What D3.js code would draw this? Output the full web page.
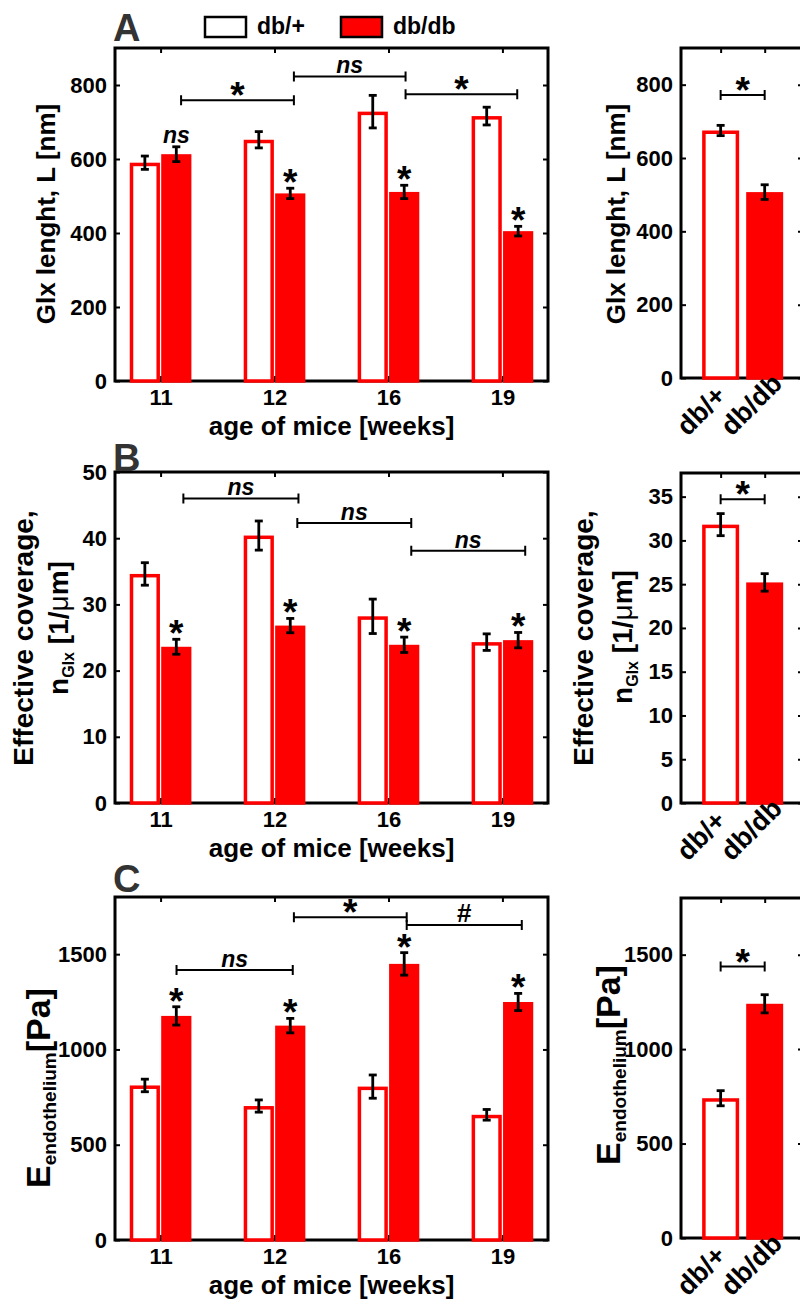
<!DOCTYPE html>
<html>
<head>
<meta charset="utf-8">
<title>Glycocalyx db/+ vs db/db</title>
<script src="https://d3js.org/d3.v7.min.js"></script>
<style>
body { margin: 0; background: #fff; }
svg { font-family: "Liberation Sans", Arial, sans-serif; font-weight: bold; }
</style>
</head>
<body>
<svg id="chart" width="800" height="1304"></svg>
<script>
// DATA ========================================================
const ages = ["11", "12", "16", "19"];
const genotypes = ["db/+", "db/db"];

// A: glycocalyx length [nm]
const lenHet = [590, 652, 728, 716];
const lenHetErr = [18, 22, 44, 24];
const lenDb = [613, 507, 511, 405];
const lenDbErr = [20, 14, 18, 13];
const lenPooled = [675, 507];
const lenPooledErr = [14, 20];
const lenMarks = ["ns", "*", "*", "*"];
const lenBrackets = [[1.18, 2.17, 759, "*"], [2.17, 3.15, 823, "ns"], [3.15, 4.13, 775, "*"]];
const lenPooledBracket = [1, 2, 772, "*"];

// B: effective coverage [1/um]
const covHet = [34.6, 40.4, 28.2, 24.3];
const covHetErr = [1.7, 2.2, 2.6, 1.25];
const covDb = [23.6, 26.8, 23.9, 24.6];
const covDbErr = [1.13, 1.08, 1.16, 1.16];
const covPooled = [31.8, 25.2];
const covPooledErr = [1.26, 1.0];
const covMarks = ["*", "*", "*", "*"];
const covBrackets = [[1.2, 2.21, 46.0, "ns"], [2.2, 3.2, 42.3, "ns"], [3.2, 4.2, 38.1, "ns"]];
const covPooledBracket = [1, 2, 34.7, "*"];

// C: endothelium stiffness [Pa]
const eHet = [811, 703, 805, 657];
const eHetErr = [33, 32, 61, 28];
const eDb = [1176, 1125, 1449, 1249];
const eDbErr = [48, 38, 59, 45];
const ePooled = [740, 1240];
const ePooledErr = [40, 48];
const eMarks = ["*", "*", "*", "*"];
const eBrackets = [[1.14, 2.16, 1417, "ns"], [2.17, 3.16, 1694, "*"], [3.16, 4.17, 1653, "#"]];
const ePooledBracket = [1, 2, 1437, "*"];

const lenTicks = [0, 200, 400, 600, 800];
const covTicks = [0, 10, 20, 30, 40, 50];
const covPooledTicks = [0, 5, 10, 15, 20, 25, 30, 35];
const eTicks = [0, 500, 1000, 1500];

// LAYOUT ======================================================
const FONT = '"Liberation Sans", Arial, sans-serif';
const RED = "#ff0000";
const LEFT = { x0: 115, x1: 548, dom: [0.6, 4.4], off: 0.138, bw: 0.265 };
const RIGHT = { x0: 681, x1: 803, dom: [0.1, 2.87], bw: 0.84 };
const svg = d3.select("#chart");

function styleAxis(a, labels) {
    a.attr("font-family", FONT).attr("font-size", 22).attr("font-weight", "bold");
    a.select(".domain").remove();
    a.selectAll(".tick line").attr("stroke", "#000").attr("stroke-width", 2);
    a.selectAll(".tick text").attr("fill", "#000");
    if (!labels) a.selectAll(".tick text").remove();
}

function drawPanel(p) {
    const s = p.side;
    const x = d3.scaleLinear().domain(s.dom).range([s.x0, s.x1]);
    const y = d3.scaleLinear().domain([0, p.yMax]).range([p.y1, p.y0]);
    const unit = x(1) - x(0);
    const g = svg.append("g");
    const cats = p.xLabels.map((d, i) => i + 1);

    // ticks (inward, boxed like matlab)
    g.append("g").attr("transform", `translate(${s.x0},0)`)
        .call(d3.axisLeft(y).tickValues(p.yTicks).tickSize(-5).tickPadding(8).tickFormat(d3.format("d")))
        .call(a => styleAxis(a, true));
    g.append("g").attr("transform", `translate(${s.x1},0)`)
        .call(d3.axisRight(y).tickValues(p.yTicks).tickSize(-5))
        .call(a => styleAxis(a, false));
    g.append("g").attr("transform", `translate(0,${p.y1})`)
        .call(d3.axisBottom(x).tickValues(cats).tickSize(-5).tickPadding(8)
            .tickFormat(d => p.xLabels[d - 1]))
        .call(a => styleAxis(a, p.side === LEFT));
    g.append("g").attr("transform", `translate(0,${p.y0})`)
        .call(d3.axisTop(x).tickValues(cats).tickSize(-5))
        .call(a => styleAxis(a, false));

    g.append("rect")
        .attr("x", s.x0).attr("y", p.y0)
        .attr("width", s.x1 - s.x0).attr("height", p.y1 - p.y0)
        .attr("fill", "none").attr("stroke", "#000").attr("stroke-width", 3);

    // bars
    let bars;
    if (s === LEFT) {
        bars = [];
        p.het.forEach((v, i) => {
            bars.push({ c: i + 1 - s.off, v: v, e: p.hetErr[i], filled: false });
            bars.push({ c: i + 1 + s.off, v: p.db[i], e: p.dbErr[i], filled: true, mark: p.marks[i] });
        });
    } else {
        bars = p.het.map((v, i) => ({ c: i + 1, v: v, e: p.hetErr[i], filled: i === 1 }));
    }
    const bwPx = s.bw * unit;
    const sw = 3.5;
    g.selectAll("rect.bar").data(bars).join("rect")
        .attr("class", "bar")
        .attr("x", d => x(d.c) - bwPx / 2 + sw / 2)
        .attr("width", bwPx - sw)
        .attr("y", d => y(d.v) + sw / 2)
        .attr("height", d => y(0) - y(d.v) - sw / 2)
        .attr("fill", d => d.filled ? RED : "#fff")
        .attr("stroke", RED).attr("stroke-width", sw);

    // error bars
    const eb = g.selectAll("g.err").data(bars).join("g").attr("class", "err")
        .attr("stroke", "#000").attr("stroke-width", 2.8);
    eb.append("line")
        .attr("x1", d => x(d.c)).attr("x2", d => x(d.c))
        .attr("y1", d => y(d.v - d.e)).attr("y2", d => y(d.v + d.e));
    eb.append("line")
        .attr("x1", d => x(d.c) - 4).attr("x2", d => x(d.c) + 4)
        .attr("y1", d => y(d.v - d.e)).attr("y2", d => y(d.v - d.e));
    eb.append("line")
        .attr("x1", d => x(d.c) - 4).attr("x2", d => x(d.c) + 4)
        .attr("y1", d => y(d.v + d.e)).attr("y2", d => y(d.v + d.e));

    // significance above db/db bars
    g.selectAll("text.mark").data(bars.filter(d => d.mark)).join("text")
        .attr("class", "mark")
        .attr("x", d => x(d.c))
        .attr("y", d => d.mark === "*" ? y(d.v + d.e) + 7 : y(d.v + d.e) - 4)
        .attr("text-anchor", "middle")
        .attr("font-size", d => d.mark === "*" ? 37 : 23)
        .attr("font-style", d => d.mark === "ns" ? "italic" : null)
        .text(d => d.mark);

    // brackets
    g.selectAll("g.br").data(p.brackets).join("g").attr("class", "br")
        .each(function (b) {
            const gb = d3.select(this);
            const yl = y(b[2]);
            gb.append("path")
                .attr("d", `M${x(b[0])},${yl - 5}V${yl + 5}M${x(b[0])},${yl}H${x(b[1])}M${x(b[1])},${yl - 5}V${yl + 5}`)
                .attr("fill", "none").attr("stroke", "#000").attr("stroke-width", 2);
            const lab = b[3];
            gb.append("text")
                .attr("x", (x(b[0]) + x(b[1])) / 2)
                .attr("y", lab === "*" ? yl + 8 : yl - 3)
                .attr("text-anchor", "middle")
                .attr("font-size", lab === "*" ? 37 : (lab === "#" ? 26 : 23))
                .attr("font-style", lab === "ns" ? "italic" : null)
                .text(lab);
        });

    // axis labels
    if (s === LEFT) {
        g.append("text")
            .attr("x", (s.x0 + s.x1) / 2).attr("y", p.y1 + 54)
            .attr("text-anchor", "middle").attr("font-size", 26)
            .text("age of mice [weeks]");
    } else {
        g.selectAll("text.cat").data(cats).join("text")
            .attr("class", "cat")
            .attr("transform", d => `translate(${x(d) - 33},${p.y1 + 59}) rotate(-45)`)
            .attr("font-size", 27)
            .text(d => p.xLabels[d - 1]);
    }
    p.ylabel.forEach(line => {
        const t = g.append("text")
            .attr("transform", `translate(${line.x},${line.y}) rotate(-90)`)
            .attr("text-anchor", "middle");
        line.parts.forEach(pt => {
            t.append("tspan")
                .attr("font-size", pt.fs)
                .attr("dy", pt.dy || 0)
                .attr("font-weight", pt.fw || null)
                .text(pt.t);
        });
    });
}

const lenLabel = [{ t: "Glx lenght, L [nm]", fs: 26 }];
const covLine1 = [{ t: "Effective coverage,", fs: 28 }];
const covLine2 = [{ t: "n", fs: 28 }, { t: "Glx", fs: 16, dy: 6 }, { t: " [1/", fs: 28, dy: -6 }, { t: "\u03bc", fs: 28, fw: "normal" }, { t: "m]", fs: 28 }];
const eLabel = [{ t: "E", fs: 34 }, { t: "endothelium", fs: 19, dy: 6 }, { t: "[Pa]", fs: 34, dy: -6 }];

// PANELS ======================================================
drawPanel({ side: LEFT, y0: 48, y1: 381, yMax: 900, yTicks: lenTicks, xLabels: ages,
    het: lenHet, hetErr: lenHetErr, db: lenDb, dbErr: lenDbErr, marks: lenMarks, brackets: lenBrackets,
    ylabel: [{ x: 55, y: 214, parts: lenLabel }] });
drawPanel({ side: RIGHT, y0: 48, y1: 378, yMax: 900, yTicks: lenTicks, xLabels: genotypes,
    het: lenPooled, hetErr: lenPooledErr, brackets: [lenPooledBracket],
    ylabel: [{ x: 625, y: 214, parts: lenLabel }] });

drawPanel({ side: LEFT, y0: 472, y1: 803, yMax: 50, yTicks: covTicks, xLabels: ages,
    het: covHet, hetErr: covHetErr, db: covDb, dbErr: covDbErr, marks: covMarks, brackets: covBrackets,
    ylabel: [{ x: 33, y: 638, parts: covLine1 }, { x: 68, y: 628, parts: covLine2 }] });
drawPanel({ side: RIGHT, y0: 473, y1: 803, yMax: 37.7, yTicks: covPooledTicks, xLabels: genotypes,
    het: covPooled, hetErr: covPooledErr, brackets: [covPooledBracket],
    ylabel: [{ x: 593, y: 638, parts: covLine1 }, { x: 632, y: 637, parts: covLine2 }] });

drawPanel({ side: LEFT, y0: 897, y1: 1240, yMax: 1800, yTicks: eTicks, xLabels: ages,
    het: eHet, hetErr: eHetErr, db: eDb, dbErr: eDbErr, marks: eMarks, brackets: eBrackets,
    ylabel: [{ x: 50, y: 1088, parts: eLabel }] });
drawPanel({ side: RIGHT, y0: 898, y1: 1238, yMax: 1800, yTicks: eTicks, xLabels: genotypes,
    het: ePooled, hetErr: ePooledErr, brackets: [ePooledBracket],
    ylabel: [{ x: 620, y: 1065, parts: eLabel }] });

// PANEL LETTERS & LEGEND ======================================
[["A", 41], ["B", 471], ["C", 892]].forEach(([l, yb]) => {
    svg.append("text").attr("x", 113).attr("y", yb)
        .attr("font-size", 38).attr("fill", "#333").text(l);
});

const legend = svg.append("g");
genotypes.forEach((gname, i) => {
    const lx = [205, 341][i];
    legend.append("rect").attr("x", lx).attr("y", 17).attr("width", 41).attr("height", 20)
        .attr("fill", i ? RED : "#fff").attr("stroke", "#000").attr("stroke-width", 2.5);
    legend.append("text").attr("x", lx + 52).attr("y", 34).attr("font-size", 23).text(gname);
});
</script>
</body>
</html>
